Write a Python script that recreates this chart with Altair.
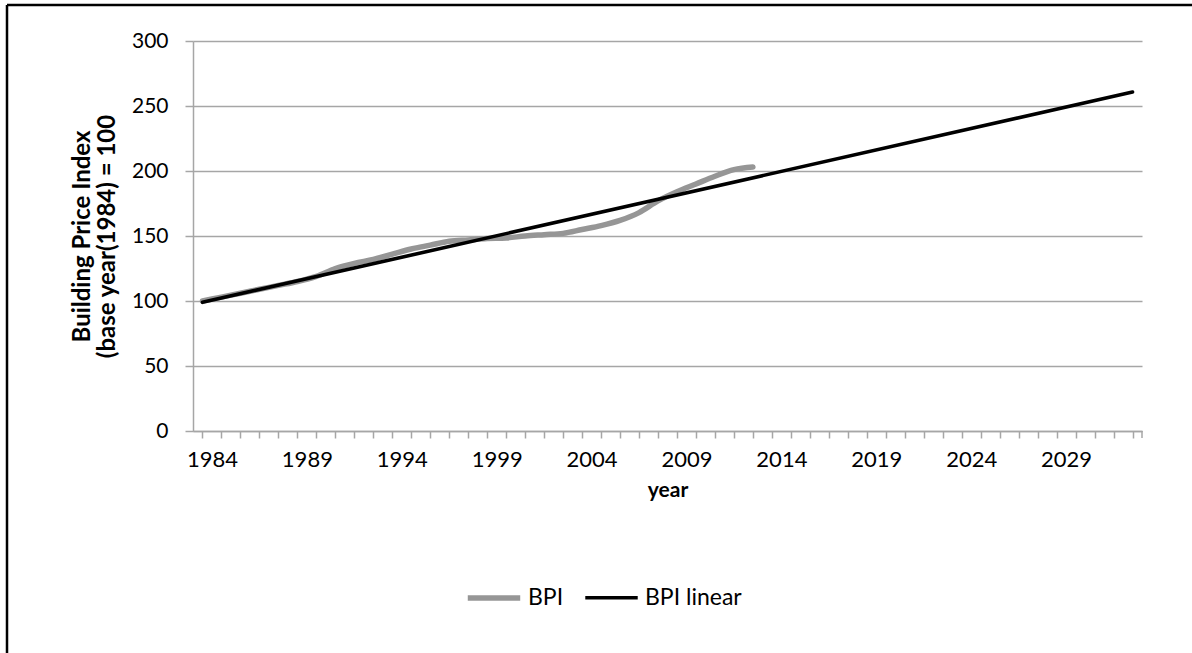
import altair as alt
import pandas as pd

# Building Price Index, base year 1984 = 100
bpi_years = list(range(1984, 2014))
bpi_values = [100, 103, 106, 109, 112, 115, 119, 125, 129, 132,
              136, 140, 143, 146, 147, 148, 148.5, 150, 151, 152,
              155, 158, 162, 168, 177, 184, 190, 196, 201, 203]

# Linear trend line, drawn between its two end points
trend_years = [1984, 2033]
trend_values = [99, 260.8]

series_names = ["BPI", "BPI linear"]
series_colors = ["#969696", "#000000"]
series_widths = [5.5, 3.6]

y_ticks = [0, 50, 100, 150, 200, 250, 300]
all_years = list(range(1984, 2034))

FONT = "Lato"
AXIS_GRAY = "#A6A6A6"

rows = [{"year": y, "value": v, "series": series_names[0]} for y, v in zip(bpi_years, bpi_values)]
rows += [{"year": y, "value": v, "series": series_names[1]} for y, v in zip(trend_years, trend_values)]
df = pd.DataFrame(rows)

W, H = 949, 390
STEP = W / len(all_years)

x_axis = alt.Axis(
    bandPosition=0,
    labelOffset=STEP / 2,
    labelExpr="(datum.value - 1984) % 5 === 0 ? datum.label : ''",
    labelOverlap=False,
    labelAngle=0,
    grid=False,
    domainColor=AXIS_GRAY,
    domainWidth=1.5,
    tickColor=AXIS_GRAY,
    tickWidth=1.5,
    tickSize=7,
    labelFont=FONT,
    labelFontSize=22,
    labelColor="#000000",
    labelPadding=11,
    title="year",
    titleFont=FONT,
    titleFontSize=21,
    titleFontWeight="bold",
    titleColor="#000000",
    titlePadding=9,
)

y_axis = alt.Axis(
    values=y_ticks,
    grid=True,
    gridColor=AXIS_GRAY,
    gridWidth=1.5,
    domainColor=AXIS_GRAY,
    domainWidth=1.5,
    tickColor=AXIS_GRAY,
    tickWidth=1.5,
    tickSize=8,
    labelFont=FONT,
    labelFontSize=21,
    labelColor="#000000",
    labelPadding=17,
    title=["Building Price Index", "(base year(1984) = 100"],
    titleFont=FONT,
    titleFontSize=24,
    titleFontWeight="bold",
    titleColor="#000000",
    titleLineHeight=25,
    titlePadding=12,
)

lines = alt.Chart(df).mark_line(interpolate="monotone", strokeCap="round").encode(
    x=alt.X("year:O", scale=alt.Scale(domain=all_years, paddingInner=0, paddingOuter=0), axis=x_axis),
    y=alt.Y("value:Q", scale=alt.Scale(domain=[0, 300], nice=False), axis=y_axis),
    color=alt.Color(
        "series:N",
        scale=alt.Scale(domain=series_names, range=series_colors),
        legend=alt.Legend(
            title=None,
            orient="none",
            legendX=272,
            legendY=528,
            direction="horizontal",
            symbolType="stroke",
            symbolSize=2750,
            symbolStrokeWidth=4.5,
            labelFont=FONT,
            labelFontSize=23,
            labelColor="#000000",
            labelOffset=5,
            columnPadding=14,
        ),
    ),
    strokeWidth=alt.StrokeWidth(
        "series:N",
        scale=alt.Scale(domain=series_names, range=series_widths),
        legend=None,
    ),
    order=alt.Order("series:N", sort="ascending"),
)

# Closing tick at the right end of the category axis
end_tick = alt.Chart(pd.DataFrame({"k": [0]})).mark_rule(color=AXIS_GRAY, strokeWidth=1.5).encode(
    x=alt.value(W), y=alt.value(H), y2=alt.value(H + 7)
)

# Frame lines around the figure
one = pd.DataFrame({"k": [0]})
frame_left = alt.Chart(one).mark_rule(color="#000000", strokeWidth=2.5).encode(
    x=alt.value(-186), y=alt.value(-36), y2=alt.value(700)
)
frame_top = alt.Chart(one).mark_rule(color="#000000", strokeWidth=2.5).encode(
    x=alt.value(-186), x2=alt.value(1100), y=alt.value(-36)
)

chart = alt.layer(lines, end_tick, frame_left, frame_top).properties(
    width=W,
    height=H,
    autosize=alt.AutoSizeParams(type="none"),
    padding={"left": 193, "top": 41, "right": 50, "bottom": 222},
    background="#FFFFFF",
).configure_view(stroke=None)

chart.save("out.html", embed_options={"renderer": "svg", "actions": False})
